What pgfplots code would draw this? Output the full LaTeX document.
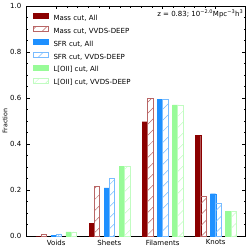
\documentclass[border=0pt]{standalone}
\usepackage{fontspec}
\setmainfont{DejaVu Sans}
\usepackage{pgfplots}
\usepackage{pgfplotstable}
\pgfplotsset{compat=1.18}
\usetikzlibrary{patterns.meta}
\definecolor{massc}{RGB}{139,0,0}
\definecolor{massd}{RGB}{185,102,102}
\definecolor{sfrc}{RGB}{30,144,255}
\definecolor{sfrd}{RGB}{120,188,255}
\definecolor{oiic}{RGB}{152,251,152}
\definecolor{oiid}{RGB}{193,252,193}

\pgfplotstableread{
x mall mdeep sall sdeep oall odeep
0 0.000 0.0074 0.004 0.0087 0.0174 0.0174
1 0.0565 0.217 0.209 0.252 0.304 0.304
2 0.497 0.599 0.593 0.593 0.570 0.570
3 0.439 0.174 0.184 0.142 0.106 0.109
}\datatable

\begin{document}
\begin{tikzpicture}
\begin{axis}[
  scale only axis, width=219pt, height=230pt,
  xmin=-0.56, xmax=3.56, ymin=0, ymax=1,
  ybar, bar width=0.1,
  xtick={0,1,2,3}, xticklabels={Voids,Sheets,Filaments,Knots},
  xtick pos=right, xticklabel pos=left,
  minor x tick num=4,
  ytick={0,0.2,0.4,0.6,0.8,1.0}, minor y tick num=3,
  tick align=inside,
  major tick length=3.5pt, minor tick length=2pt,
  axis line style={line width=0.6pt},
  every tick/.style={black, line width=0.5pt},
  yticklabel style={/pgf/number format/fixed, /pgf/number format/fixed zerofill, /pgf/number format/precision=1, inner sep=0pt, xshift=-5pt},
  xticklabel style={inner sep=0pt, yshift=-3.5pt},
  /pgf/number format/assume math mode=true,
  ticklabel style={font=\fontsize{7}{8}\selectfont},
  ylabel={Fraction},
  ylabel style={at={(rel axis cs:-0.0982,0.5)}, anchor=center, font=\fontsize{6.3}{7}\selectfont, inner sep=0pt},
  legend image code/.code={\draw[#1] (0pt,0pt) rectangle (15pt,5pt); \path (20pt,0pt);},
  legend cell align=left,
  legend style={draw=none, fill=none, at={(rel axis cs:0,1)}, anchor=north west, xshift=6.5pt, yshift=-7.3pt, inner sep=0pt, outer sep=0pt, row sep=4.5pt, font=\fontsize{7}{8}\selectfont, nodes={inner sep=0pt, text height=5pt, text depth=1.5pt}},
]
\addplot[draw=massc, fill=massc, line width=0.3pt, bar shift=-0.333] table[x=x,y=mall]{\datatable};
\addlegendentry{Mass cut, All}
\addplot[draw=massd, line width=0.5pt, pattern={Lines[angle=45,distance=7.8pt,line width=0.5pt]}, pattern color=massd, bar shift=-0.233] table[x=x,y=mdeep]{\datatable};
\addlegendentry{Mass cut, VVDS-DEEP}
\addplot[draw=sfrc, fill=sfrc, line width=0.3pt, bar shift=-0.05] table[x=x,y=sall]{\datatable};
\addlegendentry{SFR cut, All}
\addplot[draw=sfrd, line width=0.5pt, pattern={Lines[angle=45,distance=7.8pt,line width=0.5pt]}, pattern color=sfrd, bar shift=0.05] table[x=x,y=sdeep]{\datatable};
\addlegendentry{SFR cut, VVDS-DEEP}
\addplot[draw=oiic, fill=oiic, line width=0.3pt, bar shift=0.233] table[x=x,y=oall]{\datatable};
\addlegendentry{L[OII] cut, All}
\addplot[draw=oiid, line width=0.5pt, pattern={Lines[angle=45,distance=7.8pt,line width=0.5pt]}, pattern color=oiid, bar shift=0.333] table[x=x,y=odeep]{\datatable};
\addlegendentry{L[OII] cut, VVDS-DEEP}
\node[anchor=base east, font=\fontsize{7}{8}\selectfont, inner sep=0pt] at ([shift={(-2pt,-10.7pt)}]rel axis cs:1,1) {z = 0.83; 10\textsuperscript{−2.0}Mpc\textsuperscript{−3}h\textsuperscript{3}};
\coordinate (sw) at (rel axis cs:0,0);
\coordinate (ne) at (rel axis cs:1,1);
\end{axis}
\pgfresetboundingbox
\path[use as bounding box] ([shift={(-26.5pt,-14pt)}]sw) rectangle ([shift={(3.5pt,6pt)}]ne);
\end{tikzpicture}
\end{document}
